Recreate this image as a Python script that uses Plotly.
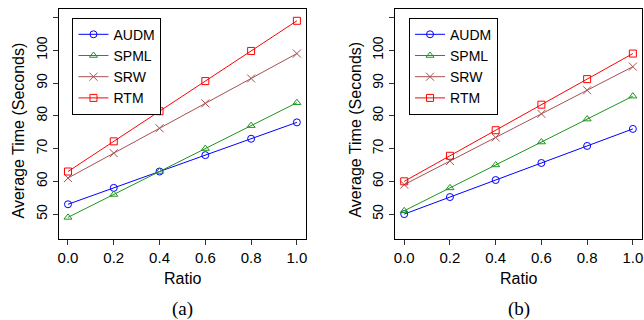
import plotly.graph_objects as go

ratio = [0.0, 0.2, 0.4, 0.6, 0.8, 1.0]
series = ["AUDM", "SPML", "SRW", "RTM"]

a_audm = [53, 58, 63, 68, 73, 78]
a_spml = [49, 56, 63, 70, 77, 84]
a_srw = [61, 68.6, 76.2, 83.8, 91.4, 99]
a_rtm = [63, 72.2, 81.4, 90.6, 99.8, 109]

b_audm = [50, 55.2, 60.4, 65.6, 70.8, 76]
b_spml = [51, 58, 65, 72, 79, 86]
b_srw = [59, 66.2, 73.4, 80.6, 87.8, 95]
b_rtm = [60, 67.8, 75.6, 83.4, 91.2, 99]

y_tickvals = [50, 60, 70, 80, 90, 100, 110]
y_ticktext = ["50", "60", "70", "80", "90", "100", ""]
x_tickvals = [0.0, 0.2, 0.4, 0.6, 0.8, 1.0]
x_ticktext = ["0.0", "0.2", "0.4", "0.6", "0.8", "1.0"]

colors = {"AUDM": "#0000FF", "SPML": "#1E961E", "SRW": "#A85050", "RTM": "#FF0000"}
symbols = {"AUDM": "circle-open", "SPML": "triangle-up-open", "SRW": "x-thin-open", "RTM": "square-open"}

FONT = "Liberation Sans, Arial, sans-serif"
SERIF = "Liberation Serif, Times New Roman, serif"

fig = go.Figure()
panels = [
    ("x", "y", "legend", {"AUDM": a_audm, "SPML": a_spml, "SRW": a_srw, "RTM": a_rtm}),
    ("x2", "y2", "legend2", {"AUDM": b_audm, "SPML": b_spml, "SRW": b_srw, "RTM": b_rtm}),
]
for xa, ya, lg, data in panels:
    for s in series:
        fig.add_trace(go.Scatter(
            x=ratio, y=data[s], name=s, mode="lines+markers",
            xaxis=xa, yaxis=ya, legend=lg,
            line=dict(color=colors[s], width=1),
            marker=dict(symbol=symbols[s], size=7 if s != "SRW" else 8,
                        color=colors[s], line=dict(color=colors[s], width=1)),
        ))

axis_common = dict(
    showline=True, linecolor="black", linewidth=1, mirror=True,
    ticks="outside", ticklen=5, tickcolor="#333333", tickwidth=1,
    showgrid=False, zeroline=False,
)
xfont = dict(family=FONT, size=15, color="black")
yfont = dict(family=FONT, size=14, color="black")
xd1 = [58 / 644, 306 / 644]
xd2 = [395.3 / 644, 643 / 644]
yd = [1 - 239 / 320, 1 - 9 / 320]

leg_common = dict(xanchor="left", yanchor="top", bordercolor="black", borderwidth=1,
                  bgcolor="white", font=dict(family=FONT, size=14), itemwidth=30, tracegroupgap=0)

fig.update_layout(
    width=644, height=320,
    margin=dict(l=0, r=0, t=0, b=0),
    paper_bgcolor="white", plot_bgcolor="white",
    font=dict(family=FONT, size=14, color="black"),
    xaxis=dict(domain=xd1, range=[-0.04, 1.04], tickvals=x_tickvals, ticktext=x_ticktext,
               anchor="y", tickfont=xfont, **axis_common),
    yaxis=dict(domain=yd, range=[42.4, 112.6], tickvals=y_tickvals, ticktext=y_ticktext,
               tickangle=-90, anchor="x", tickfont=yfont, **axis_common),
    xaxis2=dict(domain=xd2, range=[-0.04, 1.04], tickvals=x_tickvals, ticktext=x_ticktext,
                anchor="y2", tickfont=xfont, **axis_common),
    yaxis2=dict(domain=yd, range=[42.4, 112.6], tickvals=y_tickvals, ticktext=y_ticktext,
                tickangle=-90, anchor="x2", tickfont=yfont, **axis_common),
    legend=dict(x=71.7 / 644, y=1 - 17.7 / 320, **leg_common),
    legend2=dict(x=409.3 / 644, y=1 - 17.7 / 320, **leg_common),
    showlegend=True,
)

ann = []
for cx, cap in [((58 + 306) / 2 / 644, "(a)"), ((395.3 + 643) / 2 / 644, "(b)")]:
    ann.append(dict(x=cx, y=1 - 278 / 320, xref="paper", yref="paper", text="Ratio",
                    showarrow=False, font=dict(family=FONT, size=16), xanchor="center", yanchor="middle"))
    ann.append(dict(x=cx, y=1 - 309 / 320, xref="paper", yref="paper", text=cap,
                    showarrow=False, font=dict(family=SERIF, size=19), xanchor="center", yanchor="middle"))
for tx in [17.5, 322 + 32.7]:
    ann.append(dict(x=tx / 644, y=1 - 130 / 320, xref="paper", yref="paper", text="Average Time (Seconds)",
                    showarrow=False, textangle=-90, font=dict(family=FONT, size=16),
                    xanchor="center", yanchor="middle"))
fig.update_layout(annotations=ann)

fig.write_html("out.html", config={"displayModeBar": False},
               post_script="document.body.style.margin='0px';document.body.style.overflow='hidden';")
